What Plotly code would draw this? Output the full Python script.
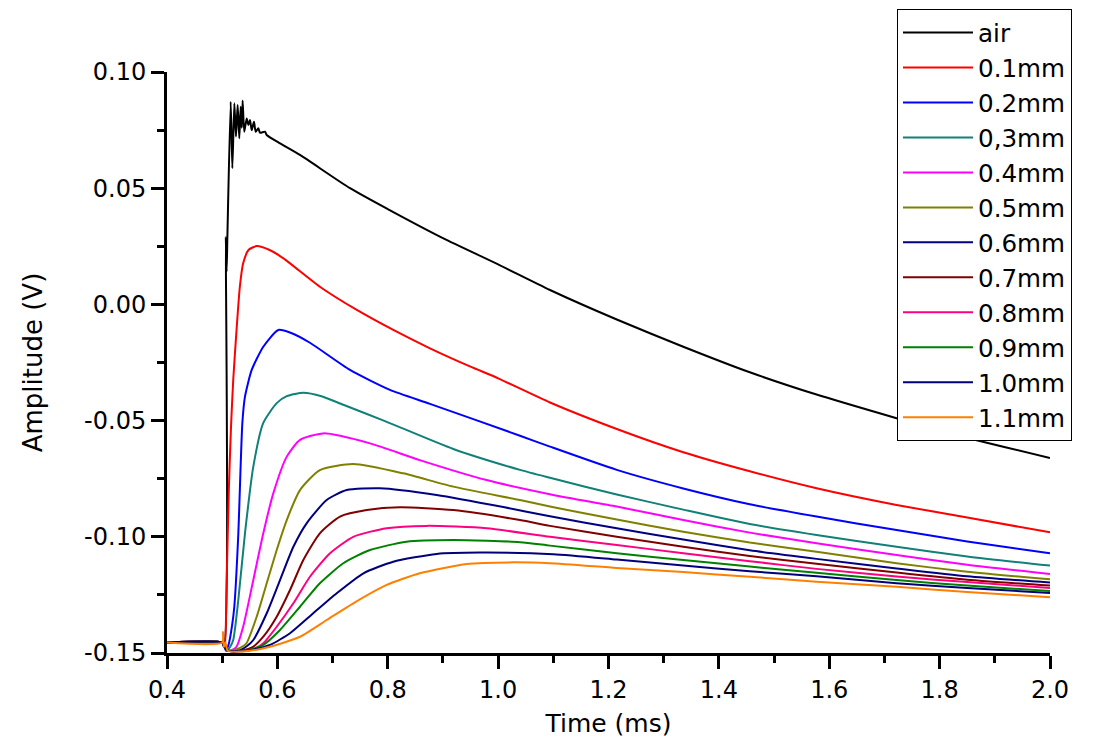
import plotly.graph_objects as go

# ---- data (time in ms, amplitude in V) ----
series_names = ["air", "0.1mm", "0.2mm", "0,3mm", "0.4mm", "0.5mm",
                "0.6mm", "0.7mm", "0.8mm", "0.9mm", "1.0mm", "1.1mm"]
series_colors = ["#000000", "#FF0000", "#0000FF", "#108078", "#FF00FF", "#808000",
                 "#000080", "#800000", "#FF0080", "#008000", "#00007A", "#FF8000"]

t_air = [0.4, 0.5, 0.504, 0.5065, 0.508, 0.5095, 0.5154, 0.5184, 0.522, 0.525, 0.528, 0.531,
         0.5335, 0.5355, 0.537, 0.540, 0.5444, 0.5474, 0.5504, 0.5535, 0.5576, 0.5607, 0.5655,
         0.5685, 0.5776, 0.5807, 0.6048, 0.641, 0.7316, 0.8, 0.9, 1.0, 1.094, 1.215, 1.3355,
         1.456, 1.577, 1.722, 1.813, 2.0]
v_air = [-0.1455, -0.1455, -0.1455, 0.029, 0.014, 0.030, 0.0872, 0.0586, 0.0865, 0.0722, 0.0858,
         0.0715, 0.085, 0.076, 0.0877, 0.0743, 0.080, 0.0772, 0.0793, 0.075, 0.0786, 0.0743, 0.0758,
         0.0739, 0.0743, 0.0729, 0.0693, 0.0643, 0.050, 0.041, 0.0285, 0.0172, 0.0062, -0.0065,
         -0.0182, -0.0292, -0.0388, -0.049, -0.0552, -0.0661]

t_01 = [0.4, 0.5, 0.503, 0.505, 0.508, 0.512, 0.516, 0.520, 0.526, 0.532, 0.538, 0.548, 0.5625,
        0.585, 0.611, 0.677, 0.744, 0.810, 0.8765, 0.95, 1.0, 1.094, 1.215, 1.3355, 1.456, 1.577,
        1.722, 1.85, 2.0]
v_01 = [-0.1455, -0.1455, -0.1465, -0.148, -0.12, -0.08, -0.0526, -0.0325, -0.011, 0.0076, 0.0177,
        0.0235, 0.0251, 0.0235, 0.0198, 0.0076, -0.0024, -0.011, -0.0189, -0.0268, -0.0318, -0.0422,
        -0.0536, -0.0636, -0.0718, -0.0791, -0.0863, -0.0917, -0.0981]

t_02 = [0.4, 0.5, 0.503, 0.507, 0.512, 0.518, 0.522, 0.529, 0.5365, 0.5413, 0.5535, 0.5745, 0.6017,
        0.625, 0.659, 0.7316, 0.804, 0.8765, 1.0396, 1.094, 1.215, 1.3355, 1.456, 1.577, 1.722,
        1.85, 2.0]
v_02 = [-0.1455, -0.1455, -0.1465, -0.149, -0.146, -0.138, -0.13, -0.10, -0.0512, -0.0397, -0.0282,
        -0.0182, -0.011, -0.0123, -0.0165, -0.0282, -0.0368, -0.0428, -0.0565, -0.0612, -0.0712,
        -0.0792, -0.0860, -0.0913, -0.0971, -0.102, -0.1071]

t_03 = [0.4, 0.5, 0.503, 0.508, 0.514, 0.520, 0.5292, 0.5413, 0.5564, 0.5745, 0.5988, 0.617, 0.647,
        0.68, 0.7195, 0.795, 0.9188, 1.0396, 1.094, 1.215, 1.3355, 1.456, 1.577, 1.722, 1.85, 2.0]
v_03 = [-0.1455, -0.1455, -0.147, -0.149, -0.1475, -0.1444, -0.1272, -0.0985, -0.0698, -0.051,
        -0.0425, -0.0395, -0.038, -0.0395, -0.0432, -0.0502, -0.0622, -0.0712, -0.0746, -0.0818,
        -0.0883, -0.0945, -0.0992, -0.1043, -0.1085, -0.1124]

t_04 = [0.4, 0.5, 0.503, 0.51, 0.52, 0.526, 0.538, 0.5564, 0.5745, 0.5926, 0.617, 0.641, 0.6832,
        0.7678, 0.858, 0.979, 1.1, 1.215, 1.3355, 1.456, 1.577, 1.722, 1.85, 2.0]
v_04 = [-0.1455, -0.1455, -0.147, -0.149, -0.1485, -0.1473, -0.1387, -0.1186, -0.0985, -0.0813,
        -0.0655, -0.0583, -0.0555, -0.0598, -0.067, -0.0756, -0.082, -0.087, -0.0928, -0.0982,
        -0.1028, -0.1078, -0.112, -0.116]

t_05 = [0.4, 0.5, 0.503, 0.51, 0.525, 0.535, 0.544, 0.5625, 0.5807, 0.5988, 0.617, 0.641, 0.677,
        0.7376, 0.828, 0.9188, 1.0396, 1.094, 1.215, 1.3355, 1.456, 1.577, 1.722, 1.85, 2.0]
v_05 = [-0.1455, -0.1455, -0.147, -0.149, -0.1485, -0.1475, -0.1458, -0.1344, -0.12, -0.1057,
        -0.0928, -0.0799, -0.0713, -0.0687, -0.0727, -0.0784, -0.0842, -0.087, -0.0926, -0.0978,
        -0.1025, -0.1064, -0.1114, -0.115, -0.1183]

t_06 = [0.4, 0.5, 0.503, 0.51, 0.53, 0.545, 0.5564, 0.5807, 0.6048, 0.629, 0.653, 0.6894, 0.7256,
        0.786, 0.8886, 1.0094, 1.094, 1.215, 1.3355, 1.456, 1.577, 1.722, 1.85, 2.0]
v_06 = [-0.1455, -0.1455, -0.147, -0.149, -0.149, -0.147, -0.1444, -0.1329, -0.1186, -0.1043,
        -0.0942, -0.0842, -0.0799, -0.0791, -0.082, -0.0872, -0.0912, -0.0963, -0.1012, -0.1058,
        -0.1095, -0.1136, -0.117, -0.1197]

t_07 = [0.4, 0.5, 0.503, 0.51, 0.535, 0.555, 0.5745, 0.5988, 0.6229, 0.647, 0.677, 0.7135, 0.762,
        0.8222, 0.9188, 1.0396, 1.094, 1.215, 1.3355, 1.456, 1.577, 1.722, 1.85, 2.0]
v_07 = [-0.1455, -0.1455, -0.147, -0.149, -0.149, -0.1475, -0.143, -0.1344, -0.1229, -0.11,
        -0.0985, -0.0913, -0.0885, -0.0873, -0.0885, -0.0928, -0.0953, -0.1, -0.1043, -0.1083,
        -0.1116, -0.1154, -0.1185, -0.121]

t_08 = [0.4, 0.5, 0.503, 0.51, 0.54, 0.56, 0.5745, 0.5988, 0.629, 0.659, 0.6954, 0.7376, 0.798,
        0.8705, 0.979, 1.094, 1.215, 1.3355, 1.456, 1.577, 1.722, 1.85, 2.0]
v_08 = [-0.1455, -0.1455, -0.147, -0.149, -0.149, -0.148, -0.1458, -0.1387, -0.1286, -0.1172,
        -0.1071, -0.1, -0.0963, -0.0953, -0.0963, -0.1, -0.1035, -0.1071, -0.1105, -0.1138,
        -0.1171, -0.1195, -0.122]

t_09 = [0.4, 0.5, 0.503, 0.51, 0.545, 0.5745, 0.6048, 0.641, 0.677, 0.7195, 0.7678, 0.834, 0.9188,
        1.0396, 1.094, 1.215, 1.3355, 1.456, 1.577, 1.722, 1.85, 2.0]
v_09 = [-0.1455, -0.1455, -0.147, -0.149, -0.149, -0.1465, -0.1401, -0.1301, -0.12, -0.1114,
        -0.1057, -0.1021, -0.1014, -0.1023, -0.1038, -0.1071, -0.11, -0.1128, -0.1155, -0.1186,
        -0.121, -0.1233]

t_10 = [0.4, 0.5, 0.503, 0.51, 0.55, 0.5866, 0.6229, 0.665, 0.7075, 0.756, 0.81, 0.8886, 0.967,
        1.1, 1.215, 1.3355, 1.456, 1.577, 1.722, 1.85, 2.0]
v_10 = [-0.1455, -0.1455, -0.147, -0.149, -0.1488, -0.1465, -0.1415, -0.1329, -0.1243, -0.1157,
        -0.1107, -0.1074, -0.1068, -0.1075, -0.1098, -0.1124, -0.1148, -0.1170, -0.12, -0.122, -0.1242]

t_11 = [0.4, 0.5, 0.5015, 0.503, 0.506, 0.51, 0.55, 0.5866, 0.641, 0.6894, 0.7376, 0.798, 0.858,
        0.943, 1.0276, 1.094, 1.215, 1.3355, 1.456, 1.577, 1.722, 1.85, 2.0]
v_11 = [-0.1455, -0.1455, -0.141, -0.1475, -0.1455, -0.149, -0.149, -0.1473, -0.143, -0.1358,
        -0.1286, -0.1207, -0.1157, -0.1117, -0.111, -0.1114, -0.1134, -0.1152, -0.1172, -0.1193,
        -0.1215, -0.1238, -0.126]

series_t = [t_air, t_01, t_02, t_03, t_04, t_05, t_06, t_07, t_08, t_09, t_10, t_11]
series_v = [v_air, v_01, v_02, v_03, v_04, v_05, v_06, v_07, v_08, v_09, v_10, v_11]

x_tick_vals = [0.4, 0.6, 0.8, 1.0, 1.2, 1.4, 1.6, 1.8, 2.0]
x_tick_text = ["0.4", "0.6", "0.8", "1.0", "1.2", "1.4", "1.6", "1.8", "2.0"]
y_tick_vals = [0.10, 0.05, 0.00, -0.05, -0.10, -0.15]
y_tick_text = ["0.10", "0.05", "0.00", "-0.05", "-0.10", "-0.15"]

FONT = "DejaVu Sans"

fig = go.Figure()
for name, col, t, v in zip(series_names, series_colors, series_t, series_v):
    fig.add_trace(go.Scatter(x=t, y=v, mode="lines", name=name,
                             line=dict(color=col, width=2, shape="spline", smoothing=0.6)))

# page body has an 8px margin, so the figure is drawn 8px in from the window edge
fig.update_layout(
    width=1094, height=748,
    margin=dict(l=159, r=52, t=64, b=103, autoexpand=False),
    paper_bgcolor="white", plot_bgcolor="white",
    font=dict(family=FONT, color="black", size=24),
    showlegend=True,
    legend=dict(x=(897 - 167) / 883, y=(653 - 9) / 581, xanchor="left", yanchor="top",
                bgcolor="white", bordercolor="black", borderwidth=1,
                font=dict(family=FONT, size=24.6, color="black"),
                itemwidth=70, tracegroupgap=0, maxheight=700),
)
fig.update_xaxes(
    range=[0.4, 2.0], showgrid=False, zeroline=False,
    showline=True, linecolor="black", linewidth=3,
    ticks="outside", ticklen=13, tickwidth=3, tickcolor="black",
    tickvals=x_tick_vals, ticktext=x_tick_text,
    minor=dict(ticks="outside", ticklen=7, tickwidth=3, tickcolor="black", dtick=0.1, showgrid=False),
    title=dict(text="Time (ms)", font=dict(family=FONT, size=25), standoff=12),
    tickfont=dict(family=FONT, size=24),
)
fig.update_yaxes(
    range=[-0.15, 0.10], showgrid=False, zeroline=False,
    showline=True, linecolor="black", linewidth=3,
    ticks="outside", ticklen=13, tickwidth=3, tickcolor="black",
    tickvals=y_tick_vals, ticktext=y_tick_text,
    minor=dict(ticks="outside", ticklen=7, tickwidth=3, tickcolor="black", dtick=0.025, showgrid=False),
    title=dict(text="Amplitude (V)", font=dict(family=FONT, size=26), standoff=34),
    tickfont=dict(family=FONT, size=24),
)

fig.write_html("out.html")
